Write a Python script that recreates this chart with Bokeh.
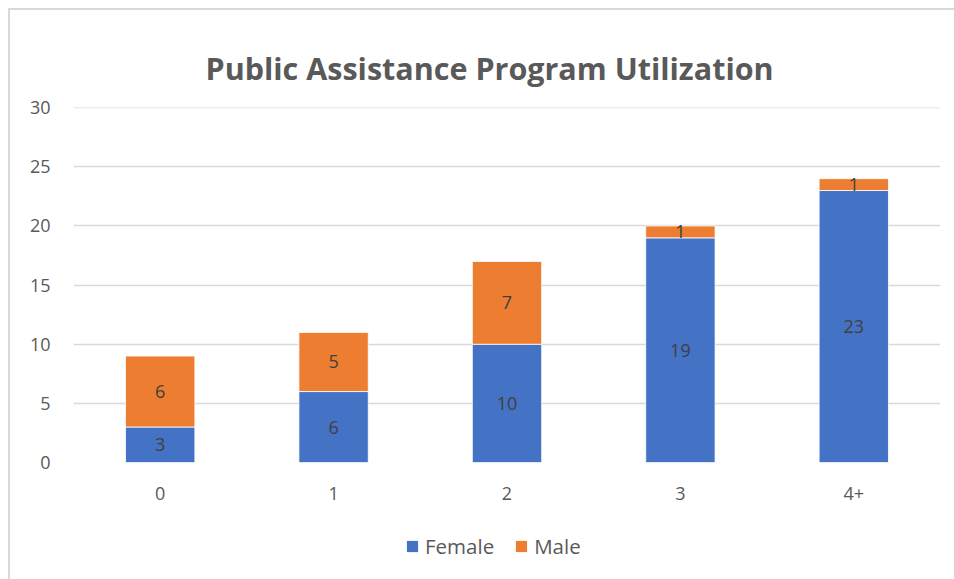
from bokeh.plotting import figure
from bokeh.layouts import column
from bokeh.models import ColumnDataSource, Legend, LegendItem, Title, FixedTicker, LabelSet
from bokeh.core.properties import value
from bokeh.embed import file_html
from bokeh.resources import INLINE

categories = ["0", "1", "2", "3", "4+"]
female = [3, 6, 10, 19, 23]
male = [6, 5, 7, 1, 1]
y_ticks = [0, 5, 10, 15, 20, 25, 30]
series = ["Female", "Male"]
colors = ["#4472C4", "#ED7D31"]

FONT = "Open Sans"
GRAY = "#595959"

female_mid = [f / 2 for f in female]
male_mid = [f + m / 2 for f, m in zip(female, male)]

src = ColumnDataSource(dict(cat=categories, Female=female, Male=male,
                            fmid=female_mid, mmid=male_mid,
                            ftxt=[str(v) for v in female], mtxt=[str(v) for v in male]))

p = figure(x_range=categories, y_range=(0, 30.02), width=954, height=515,
           output_backend="svg", toolbar_location=None,
           min_border_left=73, min_border_right=14, min_border_top=107, min_border_bottom=53)

rs = p.vbar_stack(series, x="cat", width=0.4, source=src,
                  color=colors, line_color="white", line_width=0.8)

for ycol, tcol in (("fmid", "ftxt"), ("mmid", "mtxt")):
    p.add_layout(LabelSet(x="cat", y=ycol, text=tcol, source=src,
                          text_align="center", text_baseline="middle",
                          text_font=value(FONT), text_font_size=value("18px"),
                          text_color=value("#404040")))

p.outline_line_color = None
p.background_fill_color = "white"
p.border_fill_color = None

p.xgrid.grid_line_color = None
p.ygrid.grid_line_color = "#D9D9D9"
p.ygrid.grid_line_width = 1.5
p.yaxis.ticker = FixedTicker(ticks=y_ticks)

for ax in (p.xaxis, p.yaxis):
    ax.axis_line_color = None
    ax.major_tick_line_color = None
    ax.minor_tick_line_color = None
    ax.major_label_text_font = FONT
    ax.major_label_text_font_size = "18px"
    ax.major_label_text_color = GRAY
p.xaxis.major_label_standoff = 18
p.yaxis.major_label_standoff = 17

title = Title(text="Public Assistance Program Utilization", align="left",
              vertical_align="middle", offset=132, standoff=35,
              text_font=FONT, text_font_size="30.5px", text_font_style="bold",
              text_color=GRAY)
p.add_layout(title, "above")

# legend strip below the chart (proxy renderers: zero-height, only their swatches show)
lf = figure(width=954, height=64, x_range=(0, 1), y_range=(0, 1),
            output_backend="svg", toolbar_location=None, min_border=0)
lf.axis.visible = False
lf.grid.visible = False
lf.outline_line_color = None
lf.background_fill_color = None
lf.border_fill_color = None
leg_src = ColumnDataSource(dict(x=[0.5], top=[0]))
lr = [lf.vbar(x="x", top="top", bottom=0, width=0.01, source=leg_src,
              fill_color=c, line_color=None) for c in colors]

legend = Legend(items=[LegendItem(label=s, renderers=[r]) for s, r in zip(series, lr)],
                orientation="horizontal", location=(332, 19),
                label_text_font=FONT, label_text_font_size="20.5px", label_text_color=GRAY,
                glyph_width=14, glyph_height=14, spacing=20, label_standoff=6,
                padding=0, margin=0,
                border_line_color=None, background_fill_alpha=0)
lf.add_layout(legend)

layout = column(p, lf, spacing=0)
layout.styles = {
    "background": "linear-gradient(#D9D9D9,#D9D9D9) 8px 8px / 100% 2px no-repeat, "
                  "linear-gradient(#D9D9D9,#D9D9D9) 8px 8px / 2px 100% no-repeat, white"
}

open("out.html", "w").write(file_html(layout, INLINE))
